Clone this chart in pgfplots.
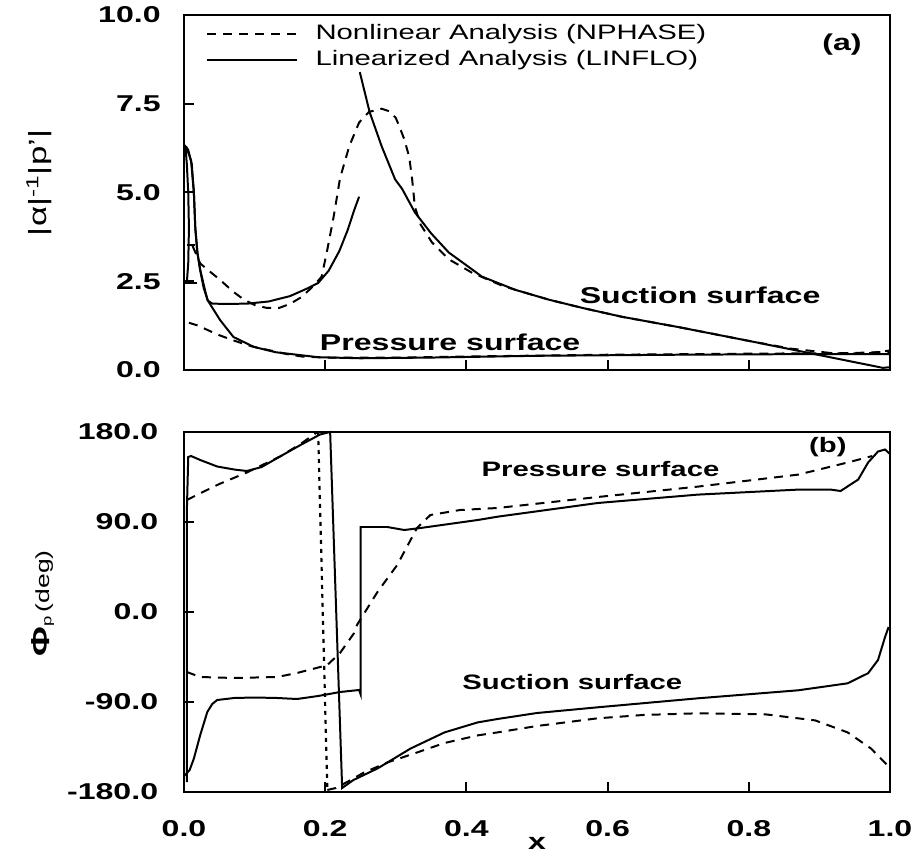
\documentclass[border=0pt]{standalone}
\usepackage{fontspec}
\setmainfont{Liberation Sans}[FakeStretch=1.4]
\usepackage{pgfplots}
\pgfplotsset{compat=1.18}
\tikzset{annot/.style={font=\fontsize{11.5}{13}\selectfont\bfseries},
         annotb/.style={font=\fontsize{10.5}{12}\selectfont\bfseries}}
\pgfplotsset{
  lin/.style={black, line width=1pt, mark=none},
  nl/.style={black, line width=1pt, mark=none, dash pattern=on 4.5bp off 3.5bp},
  nldot/.style={black, line width=1.1pt, mark=none, dash pattern=on 2bp off 2.5bp},
  myax/.style={
    scale only axis, width=353bp,
    xmin=0, xmax=1,
    axis line style={line width=1.2pt},
    tick style={line width=1pt, black},
    tick align=inside, xtick pos=bottom, ytick pos=left,
    major tick length=5bp,
    xtick={0,0.2,0.4,0.6,0.8,1.0},
    tick label style={font=\fontsize{11.5}{13}\selectfont\bfseries},
    clip=false,
    /pgf/number format/fixed,
    /pgf/number format/fixed zerofill,
    /pgf/number format/precision=1,
    /pgf/number format/assume math mode=true,
  },
}
\begin{document}
\begin{tikzpicture}
\path[use as bounding box] (0bp,0bp) rectangle (457bp,426.5bp);
% ---------------- panel (a) ----------------
\begin{axis}[myax,
  at={(92bp,241.5bp)}, anchor=south west, height=177.5bp,
  ymin=0, ymax=10, ytick={0,2.5,5,7.5,10},
  xticklabels={},
  yticklabel style={inner sep=0pt, xshift=-11.5bp},
  ylabel={|α|\textsuperscript{-1}|p'|},
  ylabel style={at={(axis description cs:-0.205,0.527)}, anchor=center, font=\fontsize{12.5}{14}\selectfont},
  legend style={at={(axis description cs:0.03,0.985)}, anchor=north west, draw=none, fill=none,
     font=\fontsize{10.5}{12.5}\selectfont, row sep=0pt, inner sep=0pt, cells={anchor=west}},
  legend image code/.code={\draw[#1] (0bp,0bp) -- (45bp,0bp); \path (52bp,0bp);},
]
\addlegendimage{nl}
\addlegendentry{Nonlinear Analysis (NPHASE)}
\addlegendimage{lin}
\addlegendentry{Linearized Analysis (LINFLO)}
% suction, linearized, leading edge to shock
\addplot[lin, forget plot] coordinates {
(0.000,6.35)(0.006,6.2)(0.011,5.8)(0.014,5.0)(0.016,4.0)(0.019,3.3)(0.023,2.8)(0.028,2.3)
(0.034,1.95)(0.040,1.87)(0.060,1.86)(0.090,1.87)(0.120,1.93)(0.150,2.08)(0.175,2.3)
(0.190,2.45)(0.205,2.8)(0.220,3.35)(0.232,3.95)(0.241,4.5)(0.248,4.88)};
% suction, linearized, after shock
\addplot[lin, forget plot] coordinates {
(0.249,8.39)(0.263,7.26)(0.280,6.3)(0.299,5.37)(0.309,5.1)(0.327,4.44)(0.350,3.85)
(0.375,3.31)(0.400,2.95)(0.422,2.63)(0.469,2.26)(0.517,1.98)(0.564,1.75)(0.620,1.5)
(0.700,1.21)(0.800,0.82)(0.900,0.42)(0.950,0.22)(0.990,0.06)(1.000,0.08)};
% pressure, linearized
\addplot[lin, forget plot] coordinates {
(0.003,6.3)(0.010,5.9)(0.014,5.0)(0.016,4.0)(0.019,3.3)(0.023,2.82)(0.033,1.98)(0.051,1.41)
(0.070,0.93)(0.099,0.65)(0.130,0.5)(0.190,0.36)(0.250,0.33)(0.350,0.35)(0.500,0.4)
(0.700,0.43)(0.900,0.45)(0.970,0.45)(1.000,0.45)};
% leading-edge loop details
\addplot[lin, forget plot] coordinates {
(0.002,6.3)(0.004,5.8)(0.006,5.0)(0.007,4.0)(0.006,3.0)(0.004,2.46)(0.000,2.46)};
\addplot[lin, forget plot] coordinates {(0.000,2.46)(0.018,2.46)};
\addplot[lin, forget plot] coordinates {(0.004,3.53)(0.016,3.53)};
% suction, nonlinear
\addplot[nl, forget plot] coordinates {
(0.012,3.5)(0.023,3.0)(0.035,2.8)(0.051,2.54)(0.070,2.2)(0.085,1.98)(0.100,1.83)(0.117,1.75)
(0.135,1.75)(0.150,1.86)(0.167,2.06)(0.185,2.4)(0.195,2.63)(0.203,3.39)(0.212,4.32)
(0.221,5.4)(0.234,6.3)(0.248,6.97)(0.262,7.27)(0.280,7.36)(0.292,7.28)(0.300,7.1)
(0.305,6.86)(0.312,6.5)(0.319,6.0)(0.323,5.4)(0.327,4.6)(0.335,4.1)(0.351,3.6)(0.375,3.12)
(0.408,2.74)(0.450,2.38)(0.469,2.26)(0.517,1.98)(0.564,1.75)(0.620,1.5)(0.700,1.21)
(0.800,0.82)(0.860,0.6)(0.920,0.47)(0.970,0.47)(1.000,0.55)};
% pressure, nonlinear
\addplot[nl, forget plot] coordinates {
(0.007,1.33)(0.020,1.25)(0.033,1.13)(0.050,0.98)(0.072,0.82)(0.095,0.67)(0.120,0.56)
(0.145,0.45)(0.167,0.38)(0.200,0.35)(0.300,0.35)(0.400,0.38)(0.600,0.43)(0.800,0.46)
(0.900,0.47)(0.950,0.48)(0.980,0.5)(1.000,0.5)};
\node[annot] at (axis cs:0.932,9.18) {(a)};
\node[annot] at (axis cs:0.731,2.09) {Suction surface};
\node[annot] at (axis cs:0.377,0.79) {Pressure surface};
\end{axis}
% ---------------- panel (b) ----------------
\begin{axis}[myax,
  at={(92bp,30.5bp)}, anchor=south west, height=180bp,
  ymin=-180, ymax=180, ytick={-180,-90,0,90,180},
  yticklabel style={inner sep=0pt, xshift=-12.75bp},
  xticklabel style={inner sep=0pt, yshift=-14bp},
  xlabel={x},
  xlabel style={at={(axis description cs:0.5,-0.142)}, anchor=center, font=\fontsize{11.5}{13}\selectfont\bfseries},
  ylabel={{\fontsize{13}{14}\selectfont\bfseries Φ}\textsubscript{p}\,(deg)},
  ylabel style={at={(axis description cs:-0.2,0.524)}, anchor=center, font=\fontsize{9.5}{11}\selectfont},
]
% S1: leading edge, top-left solid, wrap, suction solid
\addplot[lin] coordinates {
(0.004,-170)(0.004,100)(0.006,155)(0.010,156)(0.023,152)(0.047,145.5)(0.071,142.5)
(0.089,141)(0.110,145)(0.136,155.5)(0.165,167)(0.193,177.6)(0.207,180)
(0.224,-176)(0.240,-168)(0.274,-156.5)(0.321,-136.5)(0.369,-120.4)(0.416,-110.4)
(0.444,-107)(0.500,-101)(0.586,-95.3)(0.728,-86.3)(0.870,-78.3)(0.940,-71.3)(0.969,-61.2)
(0.983,-48)(0.993,-25)(0.998,-15)};
% S2: lower-left solid, jump, pressure solid
\addplot[lin] coordinates {
(0.001,-163.5)(0.008,-158)(0.014,-146.5)(0.023,-123)(0.033,-100)(0.040,-92)(0.047,-88)
(0.071,-86)(0.100,-85.5)(0.132,-86)(0.160,-87)(0.190,-84)(0.221,-80)(0.248,-78)(0.250,-82)
(0.250,85)(0.288,85)(0.312,82)(0.335,84)(0.416,92)(0.444,95.3)(0.586,109)(0.728,117.4)
(0.870,122.4)(0.916,122.4)(0.930,121)(0.955,132.5)(0.969,149.5)(0.983,160.5)(0.993,162.5)
(1.000,158)};
% D1: upper-left dashed, wrap (dotted), suction dashed
\addplot[nl] coordinates {
(0.004,112)(0.018,117)(0.050,128)(0.089,139.5)(0.136,155.5)(0.165,168)(0.187,179)(0.190,180)};
\addplot[nldot] coordinates {(0.190,180)(0.203,-178)};
\addplot[nl] coordinates {
(0.203,-178)(0.215,-176)(0.231,-170)(0.255,-160.5)(0.288,-150.5)(0.330,-140.5)(0.369,-131)
(0.416,-123.4)(0.444,-120.4)(0.500,-114)(0.586,-106.3)(0.650,-103)(0.728,-101.3)
(0.823,-102.3)(0.894,-108.4)(0.940,-120.4)(0.973,-136.5)(0.994,-151.5)(1.000,-158)};
% D2: lower-left dashed rising to pressure dashed
\addplot[nl] coordinates {
(0.004,-60)(0.023,-65)(0.071,-66)(0.132,-65)(0.160,-61)(0.193,-55)(0.203,-53)(0.221,-41)
(0.241,-21)(0.245,-13)(0.274,20)(0.302,47)(0.330,84)(0.349,97)(0.391,102)(0.444,104)
(0.586,115)(0.728,125.4)(0.870,137.4)(0.940,149.5)(0.975,156)};
\node[annotb] at (axis cs:0.912,164.5) {(b)};
\node[annotb] at (axis cs:0.59,142.5) {Pressure surface};
\node[annotb] at (axis cs:0.55,-70) {Suction surface};
\end{axis}
\end{tikzpicture}
\end{document}
